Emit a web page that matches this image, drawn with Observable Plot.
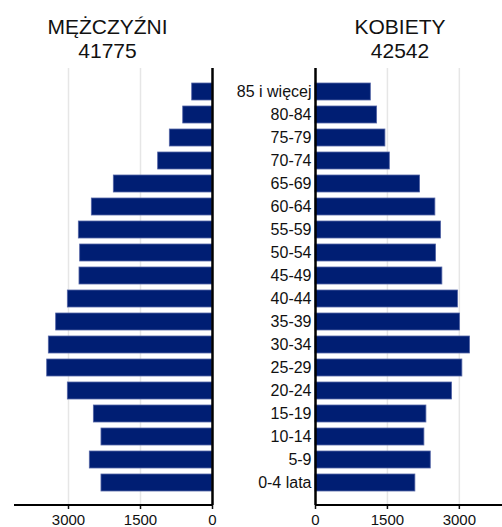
<!DOCTYPE html>
<html><head><meta charset="utf-8">
<script src="https://cdn.jsdelivr.net/npm/d3@7"></script>
<script src="https://cdn.jsdelivr.net/npm/@observablehq/plot@0.6"></script>
<style>
body{margin:0;background:#fff;font-family:"Liberation Sans",Arial,sans-serif;}
#wrap{position:relative;width:502px;height:527px;overflow:hidden;}
.title{position:absolute;text-align:center;font-size:21px;line-height:24px;color:#111;}
.panel{position:absolute;top:0;}
</style></head><body>
<div id="wrap"></div>
<script>
const ages = ["85 i więcej","80-84","75-79","70-74","65-69","60-64","55-59","50-54","45-49","40-44","35-39","30-34","25-29","20-24","15-19","10-14","5-9","0-4 lata"];
const men = [423,610,889,1132,2056,2514,2785,2757,2771,3014,3257,3410,3444,3014,2472,2313,2556,2313];
const women = [1154,1285,1458,1550,2181,2500,2619,2515,2646,2973,3015,3223,3063,2848,2313,2271,2404,2083];
const titles = ["MĘŻCZYŹNI","KOBIETY"];
const totals = [41775,42542];
const xTicks = [0,1500,3000];

const rows = ages.map((a,i)=>({age:a, men:men[i], women:women[i]}));
const wrap = document.getElementById("wrap");

const barFill = "#001e73", barStroke = "#5465a6";
const common = {
  height:527, marginTop:68, marginBottom:22,
  y:{domain:ages, paddingInner:0.28, paddingOuter:0.6},
  style:{fontFamily:'"Liberation Sans",Arial,sans-serif', background:"transparent", color:"#111", overflow:"visible"}
};
function axis(){
  return Plot.axisX({ticks:xTicks, tickSize:4, tickPadding:5, strokeWidth:1.5, fontSize:15, label:null, tickFormat:d=>String(d)});
}
function baseLine(index, scales, values, dims){
  const [r0, r1] = scales.scales.x.range;
  const y = dims.height - dims.marginBottom;
  const l = document.createElementNS("http://www.w3.org/2000/svg","line");
  l.setAttribute("x1", Math.min(r0,r1)); l.setAttribute("x2", Math.max(r0,r1));
  l.setAttribute("y1", y); l.setAttribute("y2", y);
  l.setAttribute("stroke", "#000"); l.setAttribute("stroke-width", 2.2);
  return l;
}

const left = Plot.plot({
  ...common,
  width:220, marginLeft:14, marginRight:8,
  x:{domain:[0,4125], reverse:true},
  marks:[
    Plot.ruleX(xTicks.filter(d=>d>0), {stroke:"#e6e6e6", strokeWidth:1.5}),
    Plot.barX(rows, {x:"men", y:"age", fill:barFill, stroke:barStroke, strokeWidth:0.8}),
    Plot.ruleX([0], {stroke:"#000", strokeWidth:2.5}),
    axis(),
    baseLine,
    Plot.axisY({ticks:[], label:null})
  ]
});
left.classList.add("panel"); left.style.left="0px";
wrap.appendChild(left);

const right = Plot.plot({
  ...common,
  width:282, marginLeft:95, marginRight:0,
  x:{domain:[0,3900]},
  marks:[
    Plot.ruleX(xTicks.filter(d=>d>0), {stroke:"#e6e6e6", strokeWidth:1.5}),
    Plot.barX(rows, {x:"women", y:"age", fill:barFill, stroke:barStroke, strokeWidth:0.8}),
    Plot.ruleX([0], {stroke:"#000", strokeWidth:2.5}),
    axis(),
    baseLine,
    Plot.axisY({tickSize:0, tickPadding:4, fontSize:16, label:null})
  ]
});
right.classList.add("panel"); right.style.left="220px";
wrap.appendChild(right);

const pos = [{left:0,width:215},{left:300,width:200}];
titles.forEach((t,i)=>{
  const d = document.createElement("div");
  d.className="title";
  d.style.left=pos[i].left+"px"; d.style.width=pos[i].width+"px"; d.style.top="15px";
  d.innerHTML = t+"<br>"+totals[i];
  wrap.appendChild(d);
});
</script>
</body></html>
